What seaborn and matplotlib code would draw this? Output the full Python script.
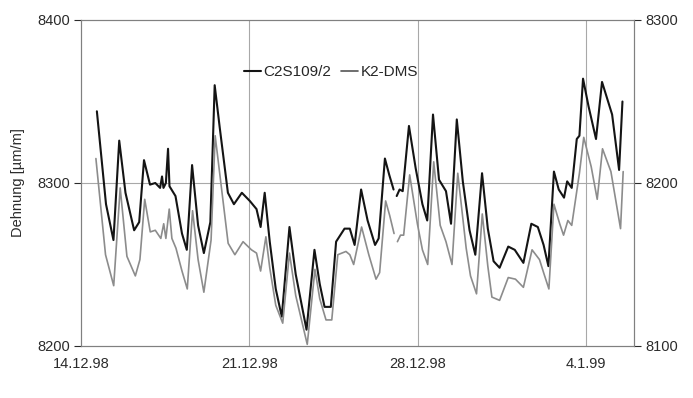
import numpy as np
import pandas as pd
import matplotlib
matplotlib.use("Agg")
import matplotlib.pyplot as plt
from matplotlib.lines import Line2D
import seaborn as sns

# ---- data (days after 14.12.98, strain values) ----
c2s_days = [0.66, 1.04, 1.35, 1.59, 1.85, 2.21, 2.42, 2.62, 2.87, 3.09, 3.29, 3.37, 3.43, 3.53,
             3.62, 3.68, 3.93, 4.20, 4.40, 4.62, 4.87, 5.11, 5.38, 5.56, 5.77, 6.11, 6.36, 6.69,
             7.02, 7.30, 7.47, 7.64, 7.85, 8.10, 8.35, 8.67, 8.93, 9.38, 9.71, 9.93, 10.13, 10.39,
             10.61, 10.96, 11.18, 11.38, 11.65, 11.92, 12.23, 12.38, 12.64, 12.82, 13.00, 13.07,
             13.13, 13.25, 13.38, 13.64, 13.92, 14.20, 14.40, 14.64, 14.89, 15.18, 15.39, 15.63,
             15.88, 16.16, 16.40, 16.68, 16.92, 17.16, 17.41, 17.77, 18.04, 18.40, 18.73, 19.00,
             19.24, 19.44, 19.67, 19.87, 20.09, 20.22, 20.41, 20.62, 20.73, 20.88, 21.11, 21.42,
             21.67, 22.09, 22.38, 22.52]
c2s_vals = [8344, 8287, 8265, 8326, 8294, 8271, 8276, 8314, 8299, 8300, 8297, 8304, 8297, 8300,
            8321, 8298, 8292, 8269, 8259, 8311, 8274, 8257, 8276, 8360, 8334, 8294, 8287, 8294,
            8289, 8284, 8273, 8294, 8264, 8235, 8218, 8273, 8244, 8210, 8259, 8238, 8224, 8224,
            8264, 8272, 8272, 8262, 8296, 8277, 8262, 8266, 8315, 8305, 8296, np.nan,
            8292, 8296, 8295, 8335, 8309, 8287, 8277, 8342, 8302, 8295, 8275, 8339,
            8301, 8271, 8256, 8306, 8272, 8252, 8248, 8261, 8259, 8251, 8275, 8273,
            8262, 8249, 8307, 8296, 8291, 8301, 8297, 8327, 8329, 8364, 8347, 8327,
            8362, 8342, 8308, 8350]

k2_days = [0.62, 1.02, 1.36, 1.63, 1.91, 2.26, 2.45, 2.65, 2.88, 3.09, 3.32, 3.44, 3.53, 3.67,
           3.78, 3.95, 4.20, 4.42, 4.64, 4.87, 5.11, 5.41, 5.58, 5.85, 6.12, 6.40, 6.74, 7.09,
           7.30, 7.47, 7.69, 7.85, 8.10, 8.39, 8.67, 8.93, 9.41, 9.73, 9.93, 10.19, 10.43, 10.68,
           11.02, 11.18, 11.34, 11.67, 11.97, 12.27, 12.42, 12.67, 12.84, 13.02, 13.07, 13.16,
           13.29, 13.42, 13.67, 13.99, 14.20, 14.42, 14.67, 14.94, 15.18, 15.43, 15.67, 16.02,
           16.20, 16.45, 16.69, 16.92, 17.09, 17.41, 17.77, 18.07, 18.40, 18.76, 19.07, 19.24,
           19.46, 19.67, 19.91, 20.07, 20.25, 20.41, 20.65, 20.73, 20.91, 21.22, 21.47, 21.69,
           22.04, 22.44, 22.55]
k2_vals = [8215, 8156, 8137, 8197, 8155, 8143, 8153, 8190, 8170, 8171, 8166, 8175, 8166, 8184,
           8166, 8160, 8146, 8135, 8183, 8153, 8133, 8165, 8229, 8196, 8163, 8156, 8164, 8159,
           8157, 8146, 8167, 8148, 8125, 8114, 8157, 8131, 8101, 8147, 8129, 8116, 8116, 8156,
           8158, 8156, 8150, 8173, 8156, 8141, 8145, 8189, 8180, 8169, np.nan, 8164,
           8168, 8168, 8205, 8175, 8159, 8150, 8213, 8174, 8164, 8150, 8206, 8160,
           8143, 8132, 8181, 8149, 8130, 8128, 8142, 8141, 8136, 8159, 8153, 8145,
           8135, 8187, 8175, 8168, 8177, 8174, 8198, 8206, 8228, 8210, 8190, 8221,
           8207, 8172, 8207]

x_ticks = [0, 7, 14, 21]
x_labels = ["14.12.98", "21.12.98", "28.12.98", "4.1.99"]
left_ticks = [8200, 8300, 8400]
right_ticks = [8100, 8200, 8300]
series_names = ["C2S109/2", "K2-DMS"]


def segmented(days, vals, name):
    df = pd.DataFrame({"day": days, "value": vals})
    df["seg"] = df["value"].isna().cumsum()
    df = df.dropna().copy()
    df["series"] = name
    return df


df_c2s = segmented(c2s_days, c2s_vals, series_names[0])
df_k2 = segmented(k2_days, k2_vals, series_names[1])

sns.set_theme(style="white")
plt.rcParams["font.family"] = ["Liberation Sans", "DejaVu Sans"]

black = "#141414"
gray = "#8c8c8c"
gridc = "#a8a8a8"
textc = "#2b2b2b"

fig = plt.figure(figsize=(6.93, 3.98), dpi=100)
ax = fig.add_axes([81 / 693, 1 - 346 / 398, (634 - 81) / 693, 326 / 398])
ax2 = ax.twinx()

sns.lineplot(data=df_c2s, x="day", y="value", units="seg", estimator=None,
             color=black, lw=1.5, ax=ax, legend=False)
sns.lineplot(data=df_k2, x="day", y="value", units="seg", estimator=None,
             color=gray, lw=1.2, ax=ax2, legend=False)

ax.set_xlim(0, 23)
ax.set_ylim(8200, 8400)
ax2.set_ylim(8100, 8300)
ax.set_xticks(x_ticks)
ax.set_xticklabels(x_labels)
ax.set_yticks(left_ticks)
ax2.set_yticks(right_ticks)
ax.set_xlabel("")
ax2.set_ylabel("")
ax.set_ylabel("Dehnung [µm/m]", fontsize=10.5, color=textc, labelpad=9)

for a in (ax, ax2):
    a.tick_params(axis="both", labelsize=10.5, colors=textc, length=5,
                  width=0.8, direction="out")
    for s in a.spines.values():
        s.set_color("#808080")
        s.set_linewidth(0.8)
ax.tick_params(axis="x", length=2, pad=6)
ax.tick_params(axis="y", left=True, pad=3)
ax2.tick_params(axis="y", right=True, pad=3)
ax2.tick_params(axis="x", bottom=False)

# grid: horizontal middle line and weekly vertical lines
ax.axhline(8300, color=gridc, lw=0.8, zorder=0)
for xt in x_ticks[1:]:
    ax.axvline(xt, color=gridc, lw=0.8, zorder=0)

handles = [Line2D([], [], color=black, lw=1.5), Line2D([], [], color="#555555", lw=1.2)]
ax.legend(handles, series_names, loc="center", bbox_to_anchor=(0.452, 0.84), ncol=2,
          frameon=False, fontsize=11, handlelength=1.1, handletextpad=0.2,
          columnspacing=0.6)

fig.savefig("out.png", dpi=100)
